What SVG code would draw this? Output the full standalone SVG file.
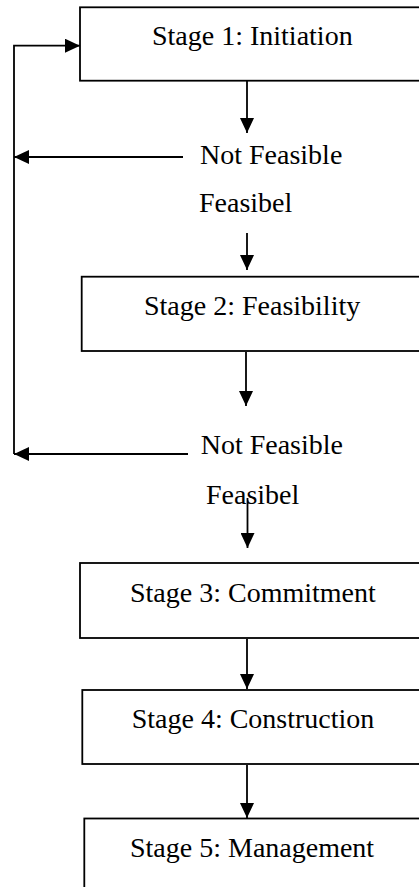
<svg xmlns="http://www.w3.org/2000/svg" width="419" height="887" viewBox="0 0 419 887">
<style>
.box{fill:#fff;stroke:#000;stroke-width:1.8}
.lbl{font-family:"Liberation Serif","Times New Roman",serif;font-size:28px;fill:#000}
.con{fill:none;stroke:#000;stroke-width:1.8}
</style>
<defs>
<marker id="ah" markerUnits="userSpaceOnUse" markerWidth="15" markerHeight="14" refX="15" refY="7" orient="auto">
<path d="M0,0 L15,7 L0,14 z" fill="#000"/>
</marker>
</defs>
<rect width="419" height="887" fill="#fff"/>
<g id="connectors">
<line class="con" x1="247" y1="81" x2="247" y2="133" marker-end="url(#ah)"/>
<line class="con" x1="183" y1="157" x2="14" y2="157" marker-end="url(#ah)"/>
<line class="con" x1="247" y1="233" x2="247" y2="270" marker-end="url(#ah)"/>
<line class="con" x1="246" y1="352" x2="246" y2="406" marker-end="url(#ah)"/>
<line class="con" x1="188" y1="454" x2="14" y2="454" marker-end="url(#ah)"/>
<polyline class="con" points="14,454 14,45.7 80,45.7" marker-end="url(#ah)"/>
<line class="con" x1="247.5" y1="498" x2="247.5" y2="548" marker-end="url(#ah)"/>
<line class="con" x1="247" y1="639" x2="247" y2="689" marker-end="url(#ah)"/>
<line class="con" x1="247" y1="765" x2="247" y2="818" marker-end="url(#ah)"/>
</g>
<g id="stage1">
<rect class="box" x="80" y="7.3" width="360" height="73.4"/>
<text class="lbl" x="152" y="45">Stage 1: Initiation</text>
</g>
<g id="notfeasible1">
<text class="lbl" x="200" y="164">Not Feasible</text>
</g>
<g id="feasible1">
<text class="lbl" x="199" y="212">Feasibel</text>
</g>
<g id="stage2">
<rect class="box" x="81.7" y="276.7" width="360" height="74.3"/>
<text class="lbl" x="144" y="315">Stage 2: Feasibility</text>
</g>
<g id="notfeasible2">
<text class="lbl" x="200.7" y="454">Not Feasible</text>
</g>
<g id="feasible2">
<text class="lbl" x="206" y="503.5">Feasibel</text>
</g>
<g id="stage3">
<rect class="box" x="80" y="563" width="360" height="75"/>
<text class="lbl" x="130" y="601.7">Stage 3: Commitment</text>
</g>
<g id="stage4">
<rect class="box" x="82.3" y="690" width="360" height="74"/>
<text class="lbl" x="131.7" y="728.3">Stage 4: Construction</text>
</g>
<g id="stage5">
<rect class="box" x="84.3" y="818.5" width="360" height="90"/>
<text class="lbl" x="130" y="856.7">Stage 5: Management</text>
</g>
</svg>
